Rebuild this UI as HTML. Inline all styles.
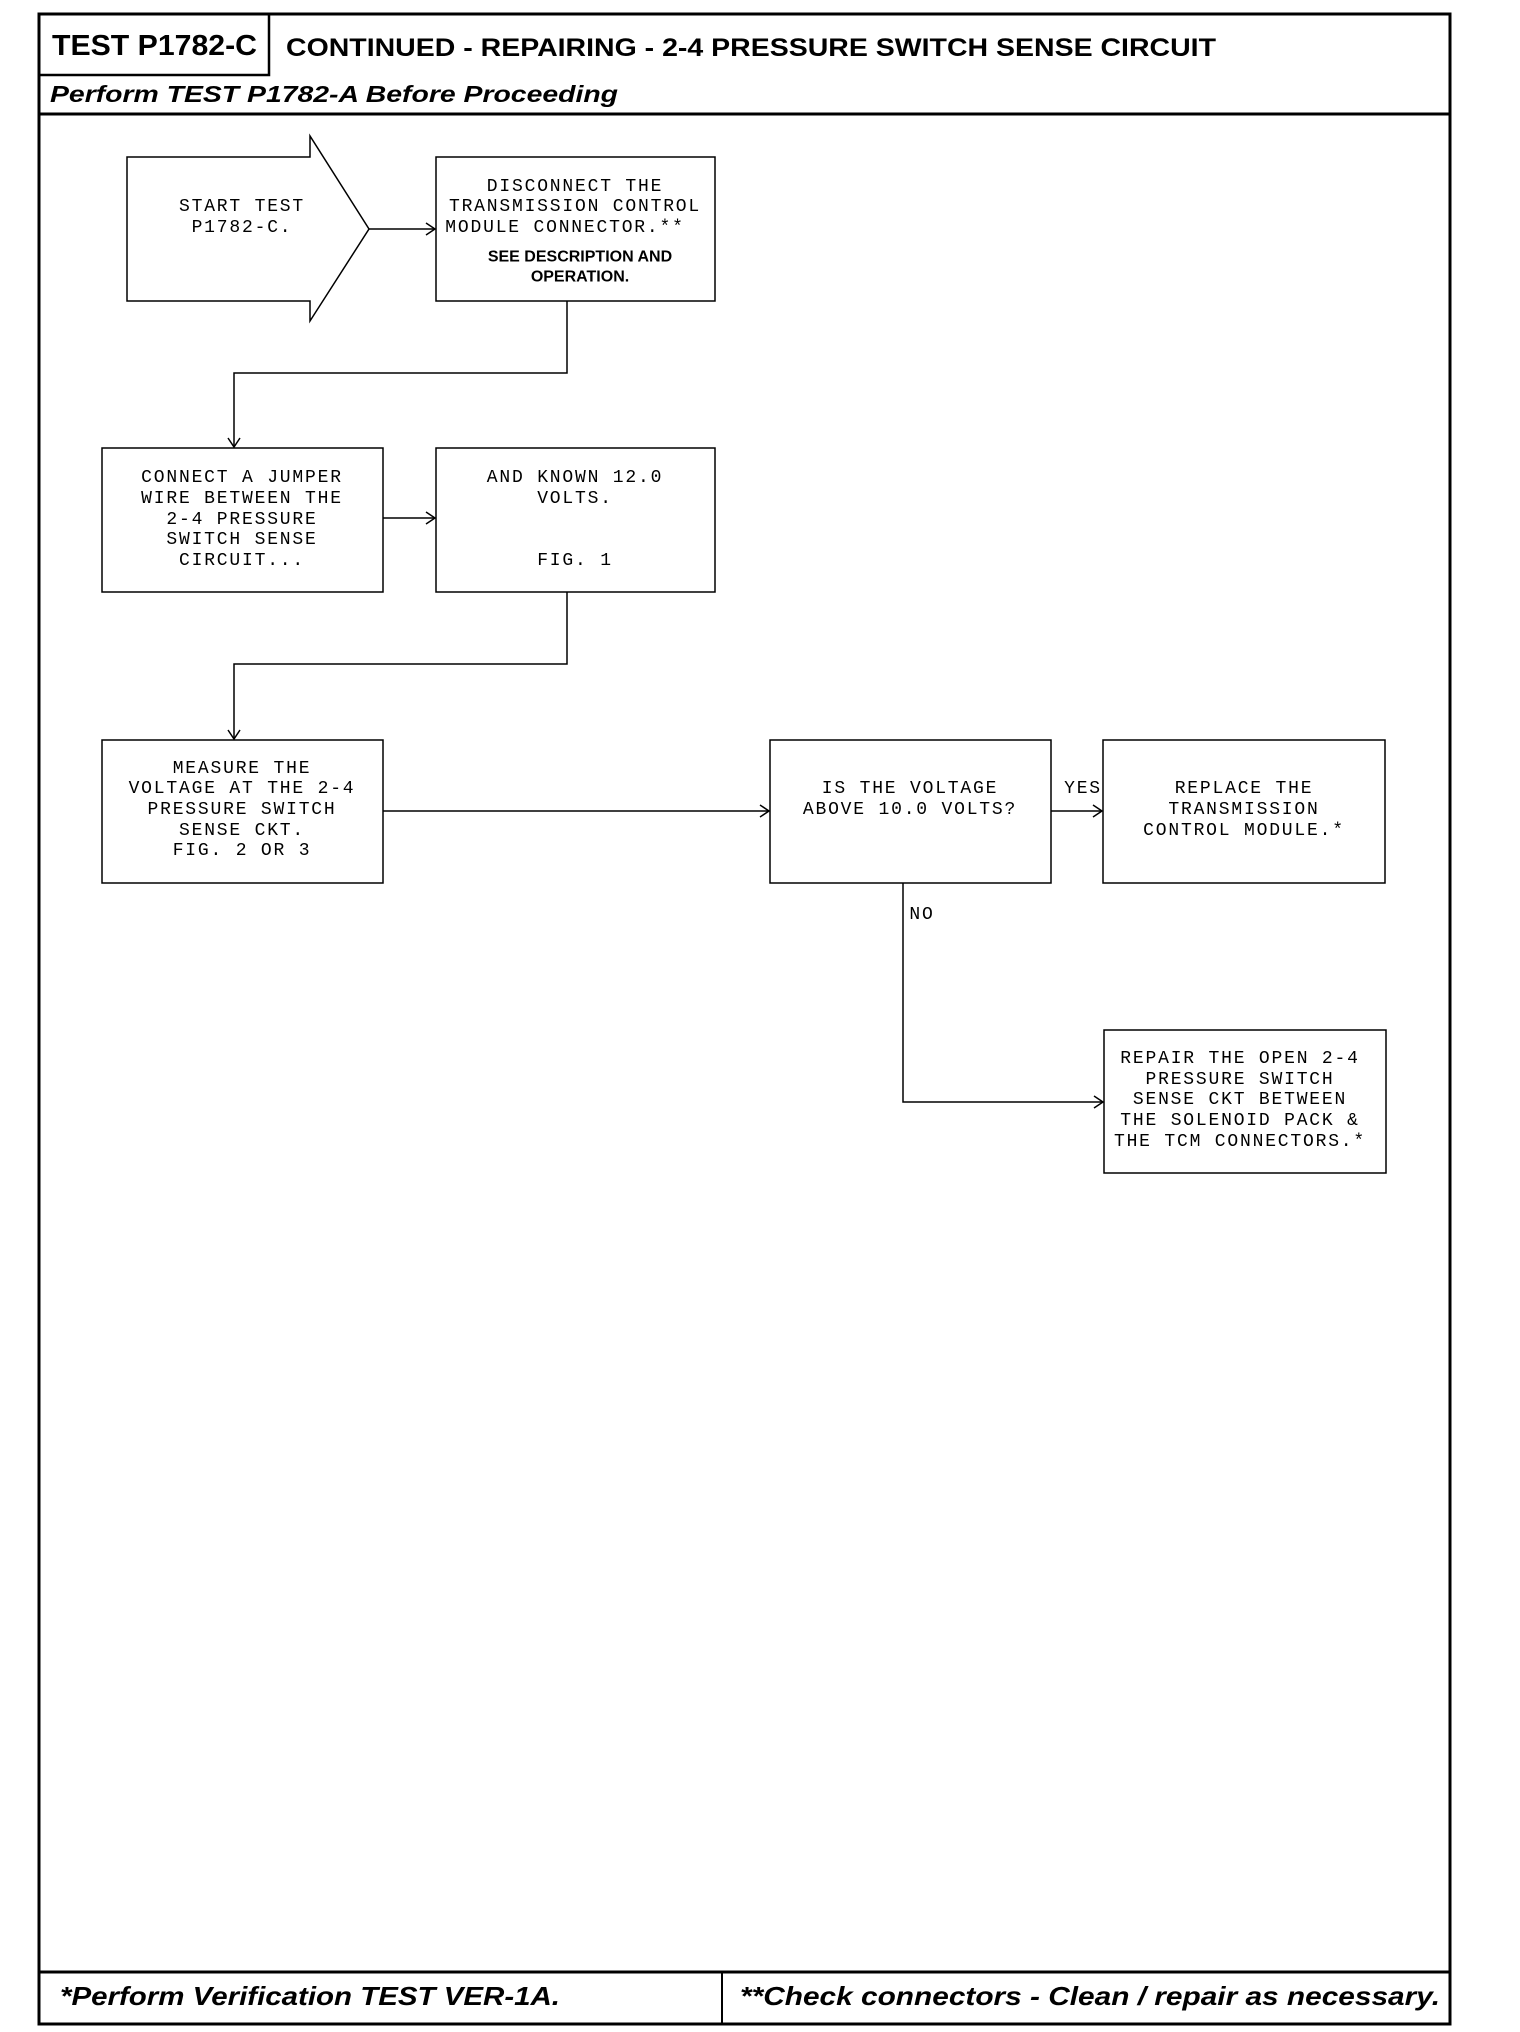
<!DOCTYPE html>
<html><head><style>
html,body{margin:0;padding:0;background:#fff;}
svg{display:block;}
.m{font-family:"Liberation Mono",monospace;font-size:18px;letter-spacing:1.8px;fill:#000;text-anchor:middle;dominant-baseline:central;}
.b{font-family:"Liberation Sans",sans-serif;font-weight:bold;font-size:16px;fill:#000;text-anchor:middle;dominant-baseline:central;}
</style></head><body>
<svg width="1520" height="2032" viewBox="0 0 1520 2032" xmlns="http://www.w3.org/2000/svg">
<g fill="none" stroke="#000">
<rect x="39" y="14" width="1411" height="2010" stroke-width="3"/>
<rect x="39" y="14" width="230" height="61" stroke-width="2.5"/>
<line x1="39" y1="114" x2="1450" y2="114" stroke-width="3"/>
<line x1="39" y1="1972" x2="1450" y2="1972" stroke-width="3"/>
<line x1="722" y1="1972" x2="722" y2="2024" stroke-width="2"/>
<polygon points="127,157 310,157 310,136 369,229 310,321 310,301 127,301" stroke-width="1.5"/>
<rect x="436" y="157" width="279" height="144" stroke-width="1.5"/>
<rect x="102" y="448" width="281" height="144" stroke-width="1.5"/>
<rect x="436" y="448" width="279" height="144" stroke-width="1.5"/>
<rect x="102" y="740" width="281" height="143" stroke-width="1.5"/>
<rect x="770" y="740" width="281" height="143" stroke-width="1.5"/>
<rect x="1103" y="740" width="282" height="143" stroke-width="1.5"/>
<rect x="1104" y="1030" width="282" height="143" stroke-width="1.5"/>
<g stroke-width="1.5">
<polyline points="369,229 434,229"/><polyline points="426,223 435,229 426,235"/>
<polyline points="567,301 567,373 234,373 234,446"/><polyline points="228,438 234,447 240,438"/>
<polyline points="383,518 434,518"/><polyline points="426,512 435,518 426,524"/>
<polyline points="567,592 567,664 234,664 234,738"/><polyline points="228,730 234,739 240,730"/>
<polyline points="383,811 768,811"/><polyline points="760,805 769,811 760,817"/>
<polyline points="1051,811 1101,811"/><polyline points="1093,805 1102,811 1093,817"/>
<polyline points="903,883 903,1102 1102,1102"/><polyline points="1094,1096 1103,1102 1094,1108"/>
</g>
</g>
<text x="52" y="46" font-family="Liberation Sans,sans-serif" font-weight="bold" font-size="29" dominant-baseline="central" textLength="205" lengthAdjust="spacingAndGlyphs">TEST P1782-C</text>
<text x="286" y="48" font-family="Liberation Sans,sans-serif" font-weight="bold" font-size="25" dominant-baseline="central" textLength="930" lengthAdjust="spacingAndGlyphs">CONTINUED - REPAIRING - 2-4 PRESSURE SWITCH SENSE CIRCUIT</text>
<text x="50" y="94" font-family="Liberation Sans,sans-serif" font-weight="bold" font-style="italic" font-size="23" dominant-baseline="central" textLength="568" lengthAdjust="spacingAndGlyphs">Perform TEST P1782-A Before Proceeding</text>
<text class="m" x="242" y="207">START TEST</text>
<text class="m" x="242" y="228">P1782-C.</text>
<text class="m" x="575" y="187">DISCONNECT THE</text>
<text class="m" x="575" y="207">TRANSMISSION CONTROL</text>
<text class="m" x="565" y="228">MODULE CONNECTOR.**</text>
<text class="b" x="580" y="257">SEE  DESCRIPTION AND</text>
<text class="b" x="580" y="277">OPERATION.</text>
<text class="m" x="242" y="478">CONNECT A JUMPER</text>
<text class="m" x="242" y="499">WIRE BETWEEN THE</text>
<text class="m" x="242" y="520">2-4 PRESSURE</text>
<text class="m" x="242" y="540">SWITCH SENSE</text>
<text class="m" x="242" y="561">CIRCUIT...</text>
<text class="m" x="575" y="478">AND KNOWN 12.0</text>
<text class="m" x="575" y="499">VOLTS.</text>
<text class="m" x="575" y="561">FIG. 1</text>
<text class="m" x="242" y="769">MEASURE THE</text>
<text class="m" x="242" y="789">VOLTAGE AT THE 2-4</text>
<text class="m" x="242" y="810">PRESSURE SWITCH</text>
<text class="m" x="242" y="831">SENSE CKT.</text>
<text class="m" x="242" y="851">FIG. 2 OR 3</text>
<text class="m" x="910" y="789">IS THE VOLTAGE</text>
<text class="m" x="910" y="810">ABOVE 10.0 VOLTS?</text>
<text class="m" x="1083" y="789">YES</text>
<text class="m" x="1244" y="789">REPLACE THE</text>
<text class="m" x="1244" y="810">TRANSMISSION</text>
<text class="m" x="1244" y="831">CONTROL MODULE.*</text>
<text class="m" x="922" y="915">NO</text>
<text class="m" x="1240" y="1059">REPAIR THE OPEN 2-4</text>
<text class="m" x="1240" y="1080">PRESSURE SWITCH</text>
<text class="m" x="1240" y="1100">SENSE CKT BETWEEN</text>
<text class="m" x="1240" y="1121">THE SOLENOID PACK &amp;</text>
<text class="m" x="1240" y="1142">THE TCM CONNECTORS.*</text>
<text x="60" y="1996" font-family="Liberation Sans,sans-serif" font-weight="bold" font-style="italic" font-size="26" dominant-baseline="central" textLength="500" lengthAdjust="spacingAndGlyphs">*Perform Verification TEST VER-1A.</text>
<text x="740" y="1996" font-family="Liberation Sans,sans-serif" font-weight="bold" font-style="italic" font-size="26" dominant-baseline="central" textLength="700" lengthAdjust="spacingAndGlyphs">**Check connectors - Clean / repair as necessary.</text>
</svg>
</body></html>
